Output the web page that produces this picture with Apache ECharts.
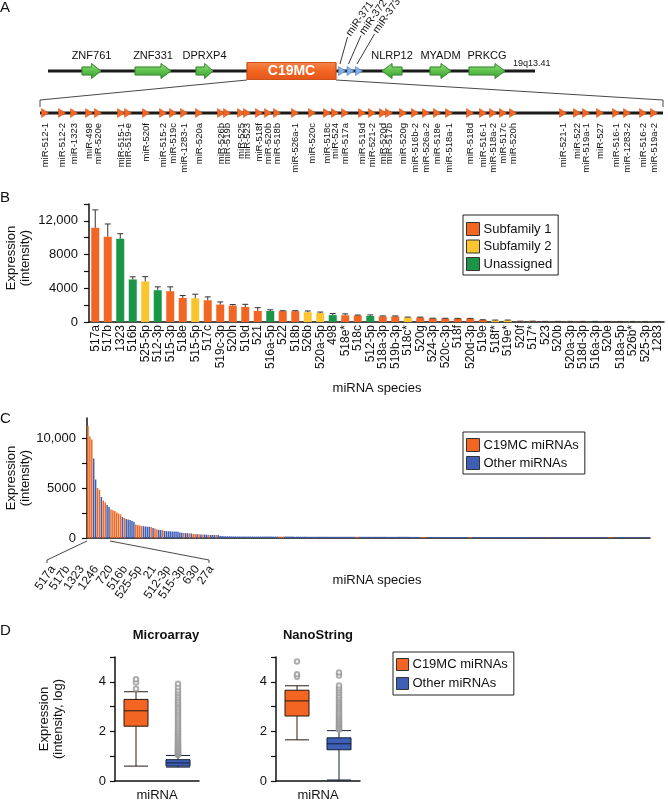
<!DOCTYPE html>
<html><head><meta charset="utf-8">
<script src="https://cdn.jsdelivr.net/npm/echarts@6/dist/echarts.min.js"></script>
<style>html,body{margin:0;padding:0;background:#fff}#c{width:668px;height:800px}</style>
</head><body><div id="c"></div>
<script>
// ================= DATA =================
// Panel A – chromosome map (positions along the drawn region)
const chromLength = 487;
const geneNames  = ['ZNF761','ZNF331','DPRXP4','NLRP12','MYADM','PRKCG'];
const geneStart  = [34, 87, 148, 334, 382, 421];
const geneEnd    = [53, 123, 165, 354, 403, 457];
const geneStrand = [1, 1, 1, -1, 1, 1];
const clusterName = 'C19MC';
const clusterSpan = [199, 288];
const mir371Names = ['miR-371','miR-372','miR-373'];
const mir371Pos   = [294, 302.5, 311];
const bandName = '19q13.41';
const c19Length = 623;
const c19Names = ['miR-512-1','miR-512-2','miR-1323','miR-498','miR-520e','miR-515-1','miR-519-e','miR-520f','miR-515-2','miR-519c','miR-1283-1','miR-520a','miR-526b','miR-519b','miR-525','miR-523','miR-518f','miR-520b','miR-518b','miR-526a-1','miR-520c','miR-518c','miR-524',
  'miR-517a','miR-519d','miR-521-2','miR-520d','miR-517b','miR-520g','miR-516b-2','miR-526a-2','miR-518e','miR-518a-1','miR-518d','miR-516-1','miR-518a-2','miR-517c','miR-520h',
  'miR-521-1','miR-522','miR-519a-1','miR-527','miR-516-1','miR-1283-2','miR-516-2','miR-519a-2'];
const c19Pos = [5,22,34,49,58,81,88,106,123,133,144,159,181,187,201,207,219,228,237,255,272,287,295,
  305,322,332,343,349,363,375,386,397,409,430,443,453,463,473,
  523,537,546,560,576,587,603,614];

// Panel B
const bNames = ['517a','517b','1323','516b','525-5p','512-3p','515-3p','518e','515-5p','517c',
  '519c-3p','520h','519d','521','516a-5p','522','518b','526b','520a-5p','498',
  '518e*','518c','512-5p','518a-3p','519b-3p','518c*','520g','524-3p','520c-3p','518f',
  '520d-3p','519e','518f*','519e*','520f','517*','523','520b','520a-3p','518d-3p',
  '516a-3p','520e','518a-5p','526b*','525-3p','1283'];
const bValues = [11190,10120,9880,5050,4810,3770,3650,2860,2820,2580,
  2070,1950,1790,1320,1300,1290,1280,1160,1070,820,
  800,760,720,660,660,540,530,420,410,405,
  400,240,200,200,80,80,60,60,60,60,
  60,50,50,50,50,50];
const bErrUpper = [13300,11630,10480,5360,5380,4170,4170,3140,3300,2980,
  2380,2070,2100,1700,1450,1340,1340,1310,1180,1000,
  960,820,840,720,720,580,580,450,440,430,
  430,270,230,230,100,100,75,75,75,75,
  75,65,65,65,65,65];
const bGroup = ['O','O','G','G','Y','G','O','O','Y','O',
  'O','O','O','O','G','O','O','Y','Y','G',
  'O','O','G','O','O','Y','O','O','O','O',
  'O','O','Y','Y','O','O','O','O','Y','O',
  'G','O','O','Y','Y','G'];
const bGroupNames = ['Subfamily 1','Subfamily 2','Unassigned'];
const bGroupKeys  = ['O','Y','G'];

// Panel C (all miRNAs, sorted)
const cLabelled = ['517a','517b','1323','1246','720','516b','525-5p','21','512-3p','515-3p','630','27a'];
const cValues = [11200,10150,9850,7950,5850,5000,4800,4100,3750,3550,3300,3100,
  2850,2780,2700,2550,2450,2350,2100,2000,
  1900,1850,1800,1700,1620,1350,1300,1250,1200,1180,1150,1130,1120,1100,1000,950,850,820,800,780,
  700,690,680,670,660,650,640,620,540,520,500,490,480,470,460,
  400,390,380,370,360,350,340,330,320,310,305,300,295,290,
  200,190,185,180,175,170,165,160,160,155,155,150,
  150,150,148,148,147,147,146,146,145,145,145,144,144,143,143,142,142,141,141,140,
  140,140,139,139,138,138,138,137,137,136,136,135,135,135,134,134,133,133,132,132,
  132,131,131,130,130,130,129,129,128,128,128,127,127,126,126,126,125,125,124,124,
  124,123,123,122,122,122,121,121,120,120,120,119,119,118,118,118,117,117,116,116,
  116,115,115,114,114,114,113,113,112,112,112,111,111,110,110,110,109,109,108,108,
  108,107,107,106,106,106,105,105,104,104,104,103,103,102,102,102,101,101,100,100,
  100,99,99,98,98,98,97,97,96,96,96,95,95,94,94,94,93,93,92,92,
  92,91,91,90,90,90,89,89,88,88,88,87,87,86,86,86,85,85,84,84,
  84,83,83,82,82,82,81,81,80,80,80,79,79,78,78,78,77,77,76,76,
  76,75,75,74,74,74,73,73,72,72,72,71,71,70,70,70,69,69,68,68,
  68,67,67,66,66,66,65,65,64,64,64,63,63];
const cC19Index = [0,1,2,5,6,8,9,12,13,14,15,16,17,19,25,26,27,28,33,35,36,39,50,53,55,56,58,60,63,67,
  100,101,102,140,141,174,175,176,199,200,240,272,273,274];

// Panel D (log intensity): [min, Q1, median, Q3, max]
const microC19Box   = [0.60, 2.21, 2.83, 3.29, 3.60];
const microOtherBox = [0.56, 0.60, 0.73, 0.86, 1.03];
const microC19Out   = [3.72, 3.97, 4.10];
const microOtherOut = [1.05,1.08,1.10,1.12,1.15,1.18,1.20,1.23,1.26,1.30,1.33,1.36,1.40,1.44,1.48,1.52,1.56,1.60,1.65,1.70,
  1.75,1.80,1.86,1.92,1.98,2.05,2.12,2.20,2.28,2.36,2.44,2.52,2.60,2.68,2.76,2.84,2.92,3.00,3.08,3.16,
  3.25,3.35,3.45,3.55,3.65,3.78,3.92];
const nanoC19Box   = [1.66, 2.62, 3.23, 3.66, 3.84];
const nanoOtherBox = [0.04, 1.26, 1.50, 1.74, 2.03];
const nanoC19Out   = [4.20, 4.30, 4.82];
const nanoOtherOut = [2.08,2.12,2.16,2.20,2.25,2.30,2.35,2.40,2.46,2.52,2.58,2.64,2.70,2.77,2.84,2.91,2.98,3.05,3.12,3.20,
  3.28,3.36,3.45,3.55,3.65,3.75,3.85,4.25,4.38];
const dCats = ['C19MC miRNAs','Other miRNAs'];

// ================= STYLE =================
const FONT = '"Liberation Sans", Arial, Helvetica, sans-serif';
const ORANGE = '#f26522', YELLOW = '#fcc530', GREEN = '#1b9647', BLUE = '#3d5fb4';
const INK = '#111';
const groupColor = {O: ORANGE, Y: YELLOW, G: GREEN};

const chart = echarts.init(document.getElementById('c'));

const axisLine = {show: true, lineStyle: {color: INK, width: 1.5}};
const fmtNum = v => v >= 10000 ? String(v).replace(/\B(?=(\d{3})+(?!\d))/g, ',') : String(v);

function hiddenValueAxis(grid, min, max) {
  return {type: 'value', gridIndex: grid, min: min, max: max, show: false};
}

const greenGrad = new echarts.graphic.LinearGradient(0, 0, 0, 1, [
  {offset: 0, color: '#9ade82'}, {offset: 0.5, color: '#5cc04a'}, {offset: 1, color: '#3a9c34'}]);
const orangeGrad = new echarts.graphic.LinearGradient(0, 0, 0, 1, [
  {offset: 0, color: '#f7864a'}, {offset: 0.5, color: '#f26522'}, {offset: 1, color: '#e4561a'}]);

const isC19 = cValues.map(() => false);
cC19Index.forEach(i => { isC19[i] = true; });

const option = {
  animation: false,
  textStyle: {fontFamily: FONT, color: INK},
  grid: [
    {left: 48, top: 51, width: 487, height: 40},
    {left: 40, top: 93, width: 623, height: 40},
    {left: 89, top: 204, width: 575, height: 118},
    {left: 87, top: 418, width: 563, height: 120},
    {left: 115, top: 657, width: 84, height: 124},
    {left: 276, top: 657, width: 84, height: 124}
  ],
  xAxis: [
    hiddenValueAxis(0, 0, chromLength),
    hiddenValueAxis(1, 0, c19Length),
    {type: 'category', gridIndex: 2, data: bNames, axisLine: axisLine, axisTick: {show: false},
      axisLabel: {interval: 0, rotate: 90, fontSize: 12, margin: 3, color: INK, fontFamily: FONT}},
    {type: 'category', gridIndex: 3, data: cValues.map((v, i) => i < cLabelled.length ? cLabelled[i] : 'miR ' + i),
      axisLine: axisLine, axisTick: {show: false}, axisLabel: {show: false}},
    {type: 'category', gridIndex: 4, data: dCats, axisLine: axisLine, axisTick: {show: false}, axisLabel: {show: false}},
    {type: 'category', gridIndex: 5, data: dCats, axisLine: axisLine, axisTick: {show: false}, axisLabel: {show: false}}
  ],
  yAxis: [
    hiddenValueAxis(0, -1, 1),
    hiddenValueAxis(1, -1, 1),
    {type: 'value', gridIndex: 2, min: 0, max: 14000, splitLine: {show: false}, axisLine: axisLine,
      axisTick: {show: true, length: 5, lineStyle: {color: INK, width: 1.2}, customValues: [0,2000,4000,6000,8000,10000,12000,14000]},
      axisLabel: {fontSize: 13, margin: 11, color: INK, customValues: [0,4000,8000,12000], formatter: fmtNum}},
    {type: 'value', gridIndex: 3, min: 0, max: 12000, splitLine: {show: false}, axisLine: axisLine,
      axisTick: {show: true, length: 5, lineStyle: {color: INK, width: 1.2}, customValues: [0,2500,5000,7500,10000]},
      axisLabel: {fontSize: 13, margin: 11, color: INK, customValues: [0,5000,10000], formatter: fmtNum}},
    {type: 'value', gridIndex: 4, min: 0, max: 5, splitLine: {show: false}, axisLine: axisLine,
      axisTick: {show: true, length: 5, lineStyle: {color: INK, width: 1.2}, customValues: [0,1,2,3,4,5]},
      axisLabel: {fontSize: 13, margin: 9, color: INK, customValues: [0,2,4]}},
    {type: 'value', gridIndex: 5, min: 0, max: 5, splitLine: {show: false}, axisLine: axisLine,
      axisTick: {show: true, length: 5, lineStyle: {color: INK, width: 1.2}, customValues: [0,1,2,3,4,5]},
      axisLabel: {fontSize: 13, margin: 9, color: INK, customValues: [0,2,4]}}
  ],
  legend: [
    {data: bGroupNames, orient: 'vertical', left: 463, top: 215, icon: 'rect', itemWidth: 13, itemHeight: 13,
      itemGap: 3.5, padding: [7, 6, 4, 3], borderColor: '#222', borderWidth: 1,
      itemStyle: {borderColor: '#333', borderWidth: 1}, selectedMode: false,
      textStyle: {fontSize: 13, color: INK, fontFamily: FONT, padding: [0, 0, 0, -1]}},
    {data: [{name: dCats[0], itemStyle: {color: ORANGE}}, {name: dCats[1], itemStyle: {color: BLUE}}],
      orient: 'vertical', left: 463, top: 432, icon: 'rect', itemWidth: 13, itemHeight: 13,
      itemGap: 4, padding: [6, 6, 4, 3], borderColor: '#222', borderWidth: 1,
      itemStyle: {borderColor: '#333', borderWidth: 1}, selectedMode: false,
      textStyle: {fontSize: 13, color: INK, fontFamily: FONT, padding: [0, 0, 0, -1]}},
    {data: [{name: dCats[0], itemStyle: {color: ORANGE}}, {name: dCats[1], itemStyle: {color: BLUE}}],
      orient: 'vertical', left: 393, top: 652, icon: 'rect', itemWidth: 12, itemHeight: 12,
      itemGap: 6, padding: [6, 6, 5, 3], borderColor: '#222', borderWidth: 1,
      itemStyle: {borderColor: '#333', borderWidth: 1}, selectedMode: false,
      textStyle: {fontSize: 13, color: INK, fontFamily: FONT, padding: [0, 0, 0, -1]}}
  ],
  series: []
};

// ---- Panel A ----
option.series.push({type: 'line', xAxisIndex: 0, yAxisIndex: 0, data: [[0, 0], [chromLength, 0]],
  symbol: 'none', silent: true, z: 1, lineStyle: {color: '#1a1a1a', width: 3}});
option.series.push({type: 'custom', xAxisIndex: 0, yAxisIndex: 0, z: 3, silent: true,
  data: geneStart.map((s, i) => [s, geneEnd[i], geneStrand[i]]),
  renderItem: function (params, api) {
    const s = api.coord([api.value(0), 0]), e = api.coord([api.value(1), 0]);
    const dir = api.value(2), y = s[1], len = e[0] - s[0];
    const head = Math.min(10, len * 0.5), bh = 4, hh = 7.5;
    let pts;
    if (dir > 0) pts = [[s[0], y - bh], [e[0] - head, y - bh], [e[0] - head, y - hh], [e[0], y], [e[0] - head, y + hh], [e[0] - head, y + bh], [s[0], y + bh]];
    else pts = [[e[0], y - bh], [s[0] + head, y - bh], [s[0] + head, y - hh], [s[0], y], [s[0] + head, y + hh], [s[0] + head, y + bh], [e[0], y + bh]];
    return {type: 'group', children: [
      {type: 'polygon', shape: {points: pts}, style: {fill: greenGrad, stroke: '#3b8c33', lineWidth: 0.7}},
      {type: 'text', x: (s[0] + e[0]) / 2, y: y - 15, style: {text: geneNames[params.dataIndex], align: 'center', verticalAlign: 'middle', font: '11px ' + FONT, fill: INK}}
    ]};
  }});
option.series.push({type: 'custom', xAxisIndex: 0, yAxisIndex: 0, z: 4, silent: true,
  data: [[clusterSpan[0], clusterSpan[1]]],
  renderItem: function (params, api) {
    const s = api.coord([api.value(0), 0]), e = api.coord([api.value(1), 0]);
    return {type: 'group', children: [
      {type: 'rect', shape: {x: s[0], y: s[1] - 8.5, width: e[0] - s[0], height: 17}, style: {fill: orangeGrad, stroke: '#c9501a', lineWidth: 0.8}},
      {type: 'text', x: (s[0] + e[0]) / 2, y: s[1] + 0.5, style: {text: clusterName, align: 'center', verticalAlign: 'middle', font: 'bold 14px ' + FONT, fill: '#fff'}}
    ]};
  }});
option.series.push({type: 'custom', xAxisIndex: 0, yAxisIndex: 0, z: 4, silent: true,
  data: mir371Pos.map(p => [p, 0]),
  renderItem: function (params, api) {
    const p = api.coord([api.value(0), 0]), x = p[0], y = p[1];
    const k = params.dataIndex;
    const tx = x + 6.5 + 5 * k, ty = y - 36 - 1.5 * k;
    return {type: 'group', children: [
      {type: 'polygon', shape: {points: [[x - 3.5, y - 4.5], [x + 3.5, y], [x - 3.5, y + 4.5]]}, style: {fill: '#7fb0e3', stroke: '#4d82c2', lineWidth: 0.6}},
      {type: 'line', shape: {x1: x - 2, y1: y - 7, x2: tx - 1, y2: ty + 2}, style: {stroke: '#222', lineWidth: 0.9}},
      {type: 'text', x: tx, y: ty, rotation: 0.96, style: {text: mir371Names[k], align: 'left', verticalAlign: 'middle', font: '10.5px ' + FONT, fill: INK}}
    ]};
  }});
option.series.push({type: 'line', xAxisIndex: 1, yAxisIndex: 1, data: [[0, 0], [c19Length, 0]],
  symbol: 'none', silent: true, z: 1, lineStyle: {color: '#1a1a1a', width: 3}});
option.series.push({type: 'custom', xAxisIndex: 1, yAxisIndex: 1, z: 3, silent: true,
  data: c19Pos.map(p => [p, 0]),
  renderItem: function (params, api) {
    const p = api.coord([api.value(0), 0]), x = p[0], y = p[1];
    return {type: 'group', children: [
      {type: 'polygon', shape: {points: [[x - 3.5, y - 4.5], [x + 3.5, y], [x - 3.5, y + 4.5]]}, style: {fill: ORANGE, stroke: '#d4541a', lineWidth: 0.5}},
      {type: 'text', x: x + 0.5, y: y + 10, rotation: Math.PI / 2, style: {text: c19Names[params.dataIndex], align: 'right', verticalAlign: 'middle', font: '9.5px ' + FONT, fill: INK}}
    ]};
  }});

// ---- Panel B ----
bGroupKeys.forEach((k, gi) => {
  option.series.push({type: 'bar', name: bGroupNames[gi], xAxisIndex: 2, yAxisIndex: 2, stack: 'b', barWidth: 8,
    itemStyle: {color: groupColor[k]}, silent: true,
    data: bValues.map((v, i) => bGroup[i] === k ? v : '-')});
});
option.series.push({type: 'custom', xAxisIndex: 2, yAxisIndex: 2, z: 5, silent: true,
  data: bValues.map((v, i) => [i, v, bErrUpper[i]]),
  renderItem: function (params, api) {
    const a = api.coord([api.value(0), api.value(1)]), b = api.coord([api.value(0), api.value(2)]);
    return {type: 'group', children: [
      {type: 'line', shape: {x1: a[0], y1: a[1], x2: b[0], y2: b[1]}, style: {stroke: '#333', lineWidth: 1}},
      {type: 'line', shape: {x1: b[0] - 3, y1: b[1], x2: b[0] + 3, y2: b[1]}, style: {stroke: '#333', lineWidth: 1}}
    ]};
  }});

// ---- Panel C ----
option.series.push({type: 'bar', name: dCats[0], xAxisIndex: 3, yAxisIndex: 3, stack: 'c', barCategoryGap: '22%',
  itemStyle: {color: ORANGE}, silent: true, data: cValues.map((v, i) => isC19[i] ? v : '-')});
option.series.push({type: 'bar', name: dCats[1], xAxisIndex: 3, yAxisIndex: 3, stack: 'c', barCategoryGap: '22%',
  itemStyle: {color: BLUE}, silent: true, data: cValues.map((v, i) => isC19[i] ? '-' : v)});

// ---- Panel D ----
function boxSeries(ax, c19Box, otherBox) {
  return {type: 'boxplot', xAxisIndex: ax, yAxisIndex: ax, boxWidth: [24, 24], silent: true,
    data: [
      {value: c19Box, itemStyle: {color: ORANGE, borderColor: '#2a1a10', borderWidth: 1}},
      {value: otherBox, itemStyle: {color: BLUE, borderColor: '#141e3a', borderWidth: 1}}
    ]};
}
function outSeries(ax, c19Out, otherOut) {
  return {type: 'scatter', xAxisIndex: ax, yAxisIndex: ax, symbol: 'emptyCircle', symbolSize: 4.5, silent: true, z: 4,
    itemStyle: {color: '#9a9a9a', borderWidth: 0.8},
    data: c19Out.map(v => [0, v]).concat(otherOut.map(v => [1, v]))};
}
option.series.push(boxSeries(4, microC19Box, microOtherBox));
option.series.push(outSeries(4, microC19Out, microOtherOut));
option.series.push(boxSeries(5, nanoC19Box, nanoOtherBox));
option.series.push(outSeries(5, nanoC19Out, nanoOtherOut));

chart.setOption(option);

// ================= ANNOTATION TEXT / CONNECTORS =================
function T(x, y, text, o) {
  o = o || {};
  return {type: 'text', x: x, y: y, rotation: o.rot || 0, silent: true, z: 10,
    style: {text: text, align: o.align || 'center', verticalAlign: o.va || 'middle',
      font: (o.weight || '') + ' ' + (o.size || 13) + 'px ' + FONT, fill: INK, lineHeight: o.lh || 14}};
}
const g = [];
g.push(T(0, 8, 'A', {align: 'left', size: 15}));
g.push(T(0, 198, 'B', {align: 'left', size: 15}));
g.push(T(0, 419, 'C', {align: 'left', size: 15}));
g.push(T(0, 631, 'D', {align: 'left', size: 15}));
g.push(T(513, 64, bandName, {align: 'left', size: 9}));

// zoom connectors from cluster box to the expanded map
const pa = chart.convertToPixel({gridIndex: 0}, [clusterSpan[0], 0]);
const pb = chart.convertToPixel({gridIndex: 0}, [clusterSpan[1], 0]);
const pl = chart.convertToPixel({gridIndex: 1}, [0, 0]);
const pr = chart.convertToPixel({gridIndex: 1}, [c19Length, 0]);
const conn = {stroke: '#333', lineWidth: 0.9, fill: null};
g.push({type: 'polyline', silent: true, shape: {points: [[pa[0], pa[1] + 9], [pl[0], pl[1] - 13], [pl[0], pl[1] - 6]]}, style: conn});
g.push({type: 'polyline', silent: true, shape: {points: [[pb[0], pb[1] + 9], [pr[0], pr[1] - 13], [pr[0], pr[1] - 6]]}, style: conn});

// axis titles
g.push(T(18, 258, 'Expression\n(intensity)', {rot: Math.PI / 2}));
g.push(T(377, 388, 'miRNA species'));
g.push(T(18, 478, 'Expression\n(intensity)', {rot: Math.PI / 2}));
g.push(T(377, 580, 'miRNA species'));
g.push(T(51, 719, 'Expression\n(intensity, log)', {rot: Math.PI / 2}));
g.push(T(166, 635, 'Microarray', {weight: 'bold'}));
g.push(T(318, 635, 'NanoString', {weight: 'bold'}));
g.push(T(157, 795, 'miRNA'));
g.push(T(318, 795, 'miRNA'));

// panel C bracket + labels of top-ranked miRNAs
const c0 = chart.convertToPixel({gridIndex: 3}, [0, 0]);
const c11 = chart.convertToPixel({gridIndex: 3}, [cLabelled.length - 1, 0]);
const band = (c11[0] - c0[0]) / (cLabelled.length - 1);
const lx = c0[0] - band / 2, rx = c11[0] + band / 2, by = c0[1] + 3;
g.push({type: 'polyline', silent: true, shape: {points: [[lx, by], [47, 560], [47, 563]]}, style: conn});
g.push({type: 'polyline', silent: true, shape: {points: [[rx, by], [209, 560], [209, 563]]}, style: conn});
cLabelled.forEach((name, i) => {
  g.push(T(53 + 14.4 * i, 567, name, {rot: 0.96, align: 'right', size: 12}));
});

chart.setOption({graphic: {elements: g}});
</script></body></html>
